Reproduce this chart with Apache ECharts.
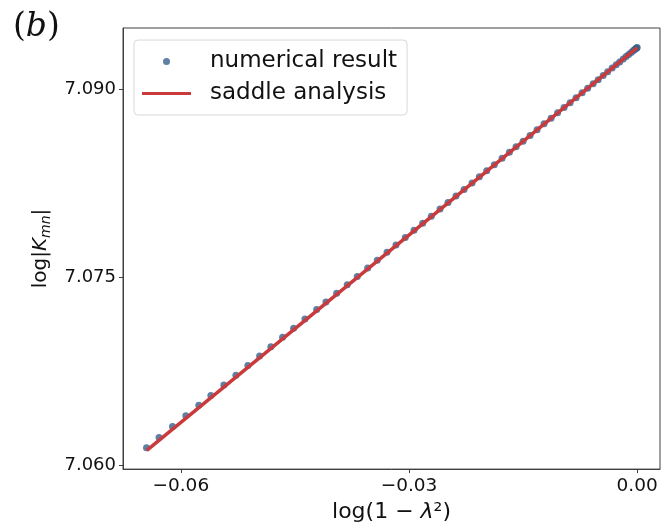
<!DOCTYPE html>
<html>
<head>
<meta charset="utf-8">
<script src="https://cdn.jsdelivr.net/npm/echarts@6/dist/echarts.min.js"></script>
<style>
  html, body { margin: 0; padding: 0; background: #fff; }
  #main { width: 664px; height: 528px; }
</style>
</head>
<body>
<div id="main"></div>
<script>
// log(1 - lambda^2) for every numerical point
const xNum = [
  -0.06451, -0.06286, -0.06109, -0.05934, -0.05763, -0.05605, -0.05434, -0.05276,
  -0.05118, -0.04964, -0.04816, -0.04662, -0.04517, -0.04368, -0.04214, -0.04092,
  -0.03951, -0.03812, -0.03680, -0.03543, -0.03417, -0.03289, -0.03171, -0.03049,
  -0.02934, -0.02820, -0.02707, -0.02592, -0.02487, -0.02382, -0.02276, -0.02171,
  -0.02075, -0.01978, -0.01878, -0.01776, -0.01680, -0.01592, -0.01500, -0.01408,
  -0.01316, -0.01224, -0.01132, -0.01046, -0.00961, -0.00882, -0.00803, -0.00724,
  -0.00651, -0.00579, -0.00513, -0.00447, -0.00388, -0.00329, -0.00276, -0.00230,
  -0.00184, -0.00145, -0.00112, -0.00079, -0.00053, -0.00033, -0.00017, -0.00007, 0
];
// log|K_mn| numerical result
const yNum = [
  7.06141, 7.06222, 7.06309, 7.06395, 7.06479, 7.06557, 7.06641, 7.06719,
  7.06797, 7.06873, 7.06946, 7.07022, 7.07093, 7.07167, 7.07243, 7.07303,
  7.07373, 7.07441, 7.07507, 7.07574, 7.07637, 7.07700, 7.07758, 7.07818,
  7.07876, 7.07932, 7.07988, 7.08045, 7.08097, 7.08149, 7.08202, 7.08254,
  7.08302, 7.08350, 7.08399, 7.08450, 7.08498, 7.08542, 7.08587, 7.08633,
  7.08679, 7.08725, 7.08770, 7.08813, 7.08855, 7.08894, 7.08934, 7.08973,
  7.09010, 7.09046, 7.09078, 7.09111, 7.09141, 7.09170, 7.09196, 7.09219,
  7.09242, 7.09262, 7.09278, 7.09295, 7.09308, 7.09318, 7.09326, 7.09331, 7.09334
];
// saddle analysis line
const xSaddle = [-0.06447, 0];
const ySaddle = [7.06119, 7.09334];

const xTicks = [-0.06, -0.03, 0.00];
const yTicks = [7.060, 7.075, 7.090];

const chart = echarts.init(document.getElementById('main'));

const option = {
  backgroundColor: '#fff',
  animation: false,
  grid: {
    left: 123, right: 4, top: 28, bottom: 57,
    show: true, borderColor: '#404040', borderWidth: 1
  },
  graphic: [{
    type: 'text', left: 13, top: 11,
    style: {
      text: '{p|(}{b|b}{p|)}',
      rich: {
        p: { fontFamily: 'DejaVu Serif', fontSize: 33, fill: '#111' },
        b: { fontFamily: 'DejaVu Serif', fontStyle: 'italic', fontSize: 33, fill: '#111' }
      }
    }
  }],
  legend: {
    orient: 'vertical',
    left: 134, top: 40,
    padding: [10, 10, 10, 8],
    itemWidth: 49, itemHeight: 7,
    itemGap: 9,
    borderColor: '#d8d8d8', borderWidth: 1, borderRadius: 4,
    textStyle: {
      fontFamily: 'DejaVu Sans', fontSize: 23, color: '#111',
      lineHeight: 23, padding: [0, 0, 0, 14]
    },
    data: [
      { name: 'numerical result', icon: 'circle' },
      { name: 'saddle analysis', icon: 'path://M0,0H49V3H0Z', itemStyle: { color: '#c93a3c' } }
    ]
  },
  xAxis: {
    type: 'value',
    min: -0.0676, max: 0.003,
    name: '{a|log(1 − }{i|λ}{a|²)}',
    nameLocation: 'middle', nameGap: 30,
    nameTextStyle: {
      rich: {
        a: { fontFamily: 'DejaVu Sans', fontSize: 22, color: '#111' },
        i: { fontFamily: 'DejaVu Sans', fontStyle: 'italic', fontSize: 22, color: '#111' }
      }
    },
    axisLine: { onZero: false, lineStyle: { color: '#404040' } },
    axisTick: { show: true, length: 4, customValues: xTicks, lineStyle: { color: '#404040' } },
    axisLabel: {
      customValues: xTicks, margin: 8,
      fontFamily: 'DejaVu Sans', fontSize: 18.5, color: '#111',
      formatter: v => (v < 0 ? '−' : '') + Math.abs(v).toFixed(2)
    },
    splitLine: { show: false }
  },
  yAxis: {
    type: 'value',
    min: 7.0597, max: 7.0949,
    name: '{a|log|}{i|K}{s|mn}{a||}',
    nameLocation: 'middle', nameGap: 68,
    nameTextStyle: {
      rich: {
        a: { fontFamily: 'DejaVu Sans', fontSize: 20, color: '#111', lineHeight: 26 },
        i: { fontFamily: 'DejaVu Sans', fontStyle: 'italic', fontSize: 20, color: '#111', lineHeight: 26 },
        s: { fontFamily: 'DejaVu Sans', fontStyle: 'italic', fontSize: 14, color: '#111', lineHeight: 14, verticalAlign: 'bottom' }
      }
    },
    axisLine: { onZero: false, lineStyle: { color: '#404040' } },
    axisTick: { show: true, length: 4, customValues: yTicks, lineStyle: { color: '#404040' } },
    axisLabel: {
      customValues: yTicks, margin: 7,
      fontFamily: 'DejaVu Sans', fontSize: 18, color: '#111',
      formatter: v => v.toFixed(3)
    },
    splitLine: { show: false }
  },
  series: [
    {
      name: 'numerical result',
      type: 'scatter',
      symbolSize: 7,
      itemStyle: { color: '#34608c' },
      data: xNum.map((x, i) => [x, yNum[i]]),
      z: 2
    },
    {
      name: 'saddle analysis',
      type: 'line',
      symbol: 'none',
      lineStyle: { color: '#c93a3c', width: 3.5 },
      itemStyle: { color: '#c93a3c' },
      data: xSaddle.map((x, i) => [x, ySaddle[i]]),
      z: 3
    }
  ]
};

chart.setOption(option);
</script>
</body>
</html>
